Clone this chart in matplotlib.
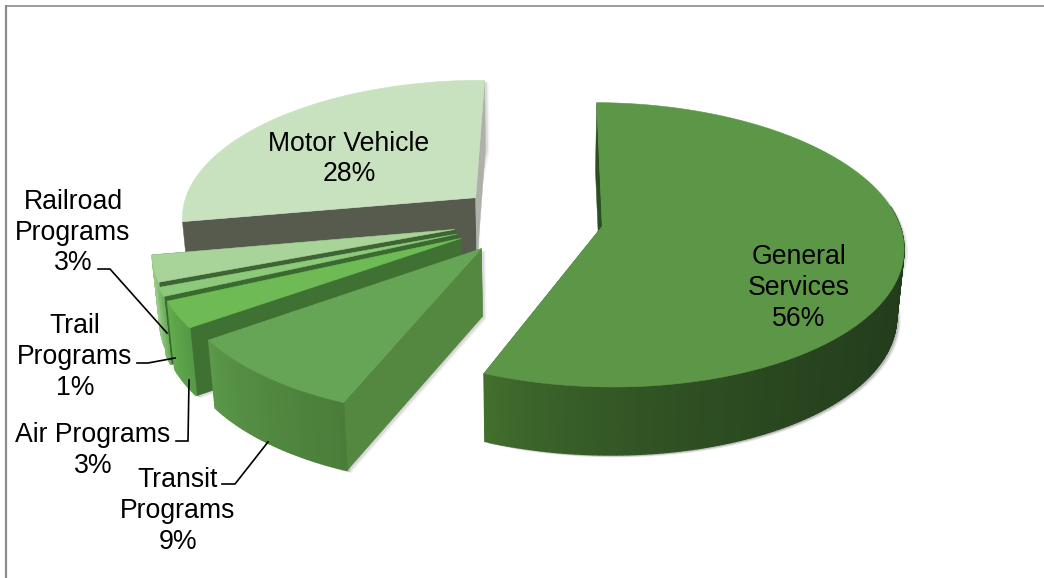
import numpy as np
import matplotlib
matplotlib.use("Agg")
import matplotlib.pyplot as plt
from matplotlib.patches import Polygon

# ---- data ----
categories = ["General Services", "Transit Programs", "Air Programs",
              "Trail Programs", "Railroad Programs", "Motor Vehicle"]
shares = [56, 9, 3, 1, 3, 28]
explode = [0.244, 0.262, 0.267, 0.269, 0.264, 0.25]
top_colors = ["#5c9747", "#66a555", "#6ebb55", "#8cc97a", "#a8d499", "#c8e2c0"]
side_left = ["#44722f", "#5c9a4a", "#62ad4f", "#7cbf6a", "#97cb87", "#b5d4ab"]
side_right = ["#233d1c", "#4a7d3a", "#559a45", "#6aa95a", "#8bbd7b", "#a5c49b"]
cut_start = ["#2c4f22", "#54873f", "#3f7132", "#3b6a30", "#3f6434", "#575b4d"]
cut_end = ["#2c4f22", "#54873f", "#3f7132", "#3b6a30", "#3f6434", "#aeb1a8"]

label_texts = [("General\nServices\n56%", 799, 288),
               ("Transit\nPrograms\n9%", 178, 511),
               ("Air Programs\n3%", 93, 450.5),
               ("Trail\nPrograms\n1%", 75, 357),
               ("Railroad\nPrograms\n3%", 73, 232.5),
               ("Motor Vehicle\n28%", 349, 159)]
leaders = [[(98, 269), (110, 269), (167, 333)],
           [(137, 363), (148, 363), (175, 358)],
           [(176, 441), (188, 441), (189, 380)],
           [(222, 484), (235, 484), (268, 442)]]

# ---- projection of the tilted disc to the page ----
VX, CY, RX, RY, K = 531.0, 219.5, 296.0, 138.0, 0.13
DEPTH, BOTTOM_SCALE = 68.0, 0.98
FIRST_ANGLE = np.radians(0.6)


def project(u, v, bottom=False):
    s = 1.0 / (1.0 - K * v)
    x = RX * u * s
    y = RY * v * s
    if bottom:
        return VX + x * BOTTOM_SCALE, CY + y + DEPTH
    return VX + x, CY + y


def hex2rgb(c):
    return np.array(matplotlib.colors.to_rgb(c))


fig = plt.figure(figsize=(10.44, 5.78), dpi=100)
ax = fig.add_axes([0, 0, 1, 1])
ax.set_xlim(0, 1044)
ax.set_ylim(578, 0)
ax.axis("off")

# chart frame: only the left and top edges fall inside the picture
ax.plot([6, 6], [5, 578], color="#8c8c8c", lw=1.6, zorder=0, solid_capstyle="butt")
ax.plot([5, 1044], [5.7, 5.7], color="#8c8c8c", lw=1.2, zorder=0, solid_capstyle="butt")

fractions = np.array(shares) / sum(shares) * 2 * np.pi
starts = FIRST_ANGLE + np.concatenate([[0], np.cumsum(fractions)[:-1]])
order = [5, 4, 3, 2, 1, 0]

for z, i in enumerate(order):
    a0, a1 = starts[i], starts[i] + fractions[i]
    mid = (a0 + a1) / 2
    ou, ov = explode[i] * np.sin(mid), -explode[i] * np.cos(mid)
    th = np.linspace(a0, a1, max(12, int(np.degrees(a1 - a0))) + 1)
    us, vs = ou + np.sin(th), ov - np.cos(th)

    apex_t = project(ou, ov)
    apex_b = project(ou, ov, True)
    top = np.array([project(u, v) for u, v in zip(us, vs)])
    bot = np.array([project(u, v, True) for u, v in zip(us, vs)])
    base = 10 * z + 1

    # soft shadow
    sh = np.vstack([top, bot[::-1]])
    for off, al in ((4, .08), (2.5, .14)):
        ax.add_patch(Polygon(np.vstack([[apex_b], bot, [apex_t], [apex_b]]) + [off, off * .6],
                             closed=True, fc="#555555", ec="none", alpha=al, zorder=base))
        ax.add_patch(Polygon(sh + [off, off * .6], closed=True, fc="#555555", ec="none",
                             alpha=al, zorder=base))
    # radial cut faces
    for p_t, p_b, c in ((top[0], bot[0], cut_start[i]), (top[-1], bot[-1], cut_end[i])):
        ax.add_patch(Polygon([apex_t, p_t, p_b, apex_b], closed=True, fc=c,
                             ec=c, lw=.3, zorder=base + 1))
    # outer wall: shaded strips, only where it faces the viewer
    n = len(th) - 1
    c0, c1 = hex2rgb(side_left[i]), hex2rgb(side_right[i])
    for j in range(n):
        facing = np.cos((th[j] + th[j + 1]) / 2)
        if i == 5 or facing > (0.15 if i == 0 else 0.02):
            continue
        t = (top[j:j + 2, 0].mean() - top[:, 0].min()) / max(1, np.ptp(top[:, 0]))
        col = c0 + (c1 - c0) * t ** 0.6
        ax.add_patch(Polygon([top[j], top[j + 1], bot[j + 1], bot[j]], closed=True, fc=col,
                             ec=col, lw=1.0, zorder=base + 2))
    # top surface
    ax.add_patch(Polygon(np.vstack([[apex_t], top]), closed=True, fc=top_colors[i],
                         ec=top_colors[i], lw=.4, zorder=base + 3))

for pts in leaders:
    xs, ys = zip(*pts)
    ax.plot(xs, ys, color="black", lw=1.2, zorder=100, solid_joinstyle="miter")

for txt, x, y in label_texts:
    ax.text(x, y, txt, ha="center", va="center", family="Liberation Sans", fontsize=19.2,
            linespacing=1.24, color="black", zorder=101)

fig.savefig("out.png", dpi=100)
